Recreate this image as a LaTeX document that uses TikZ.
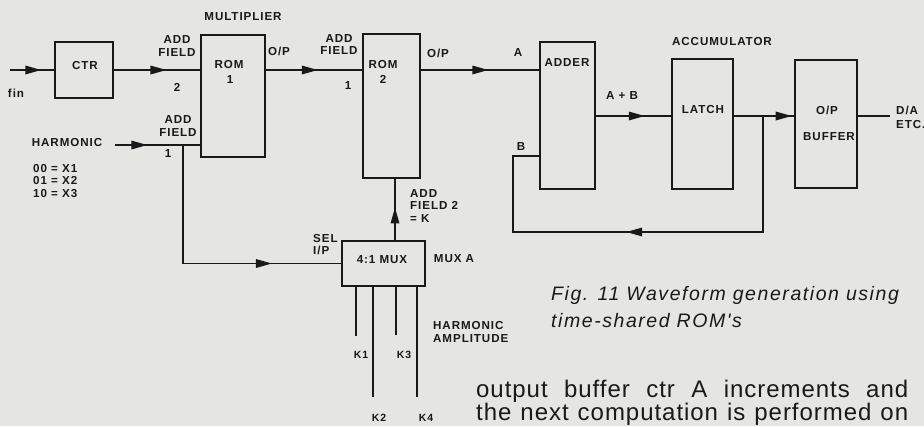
\documentclass[tikz,border=0pt]{standalone}
\usepackage{fontspec}
\newfontfamily\labf[LetterSpace=8]{Liberation Sans}
\newfontfamily\capf[LetterSpace=8]{Liberation Sans}
\newfontfamily\bodyf[LetterSpace=4]{Liberation Sans}
\usetikzlibrary{arrows.meta,decorations.markings}
\definecolor{paper}{RGB}{229,229,225}
\definecolor{ink}{RGB}{25,25,25}
\begin{document}
\begin{tikzpicture}[x=1pt,y=-1pt,
  lab/.style={font=\labf\bfseries\fontsize{11.6}{12.2}\selectfont, text=ink, inner sep=0pt, align=center},
  labl/.style={lab, align=left, anchor=west},
  klab/.style={lab, font=\labf\bfseries\fontsize{10.5}{12}\selectfont},
  blk/.style={draw=ink, line width=1.7pt, inner sep=0pt, rectangle},
  wire/.style={color=ink, line width=1.7pt},
  arr/.style={postaction={decorate}, decoration={markings, mark=at position #1 with {\arrow{Triangle[length=16pt,width=8.5pt]}}}},
  capt/.style={font=\capf\itshape\fontsize{19.5}{22}\selectfont, text=ink, inner sep=0pt, anchor=base west},
  body/.style={font=\bodyf\fontsize{24}{25}\selectfont, text=ink, inner sep=0pt, anchor=base west},
]
\fill[paper] (0,0) rectangle (924,426);
\useasboundingbox (0,0) rectangle (924,426);

% blocks
\node[blk, minimum width=58pt, minimum height=56pt] (ctr) at (84,70) {};
\node[blk, minimum width=64pt, minimum height=122pt] (rom1) at (233,96) {};
\node[blk, minimum width=57pt, minimum height=144pt] (rom2) at (391.5,106) {};
\node[blk, minimum width=55pt, minimum height=147pt] (adder) at (567.5,115.5) {};
\node[blk, minimum width=61pt, minimum height=130pt] (latch) at (702.5,124) {};
\node[blk, minimum width=62pt, minimum height=128pt] (buffer) at (826,124) {};
\node[blk, minimum width=83pt, minimum height=45pt] (mux) at (383.5,263.5) {};

% coordinates
\coordinate (fin) at (10,70);
\coordinate (sumy) at (600,116);
\coordinate (fb) at (763,116);
\coordinate (fb1) at (763,232);
\coordinate (fb2) at (513,232);
\coordinate (fb3) at (513,156);
\coordinate (out) at (890,116);
\coordinate (harm) at (115,145);
\coordinate (j) at (183,145);
\coordinate (kin) at (395,241);
\coordinate (k1) at (356,336);
\coordinate (k2) at (373,397);
\coordinate (k3) at (396,335);
\coordinate (k4) at (417,397);

% wires
\draw[wire, arr=0.71] (fin) -- (ctr.west);
\draw[wire, arr=0.61] (ctr.east) -- (ctr.east -| rom1.west);
\draw[wire, arr=0.54] (ctr.east -| rom1.east) -- (ctr.east -| rom2.west);
\draw[wire, arr=0.57] (ctr.east -| rom2.east) -- (ctr.east -| adder.west);
\draw[wire, arr=0.65] (sumy -| adder.east) -- (sumy -| latch.west);
\draw[wire, arr=0.96] (sumy -| latch.east) -- (sumy -| buffer.west);
\draw[wire] (sumy -| buffer.east) -- (out);
\draw[wire, arr=0.54] (fb) -- (fb1) -- (fb2) -- (fb3) -- (fb3 -| adder.west);
\draw[wire, arr=0.38] (harm) -- (harm -| rom1.west);
\draw[wire, arr=0.75] (j) |- (mux.west);
\draw[wire, arr=0.54] (kin) -- (kin |- rom2.south);
\draw[wire] (k1 |- mux.south) -- (k1);
\draw[wire] (k2 |- mux.south) -- (k2);
\draw[wire] (k3 |- mux.south) -- (k3);
\draw[wire] (k4 |- mux.south) -- (k4);

% labels
\node[lab] (tfin) at (16,93) {fin};
\node[lab] (tctr) at (85,66) {CTR};
\node[lab] (taf2) at (177,46) {ADD\\FIELD};
\node[lab] (t2) at (177,87) {2};
\node[lab] (tmul) at (243,17) {MULTIPLIER};
\node[lab] (trom1) at (229,65) {ROM};
\node[lab] (trom1n) at (230,80) {1};
\node[lab] (top1) at (279,51) {O/P};
\node[lab] (taf1) at (178,126) {ADD\\FIELD};
\node[lab] (t1a) at (168,154) {1};
\node[lab] (tharm) at (67,143) {HARMONIC};
\node[labl] (tcode) at (33,181) {00 = X1\\01 = X2\\10 = X3};
\node[lab] (taf3) at (339,44.5) {ADD\\FIELD};
\node[lab] (t1b) at (348,86) {1};
\node[lab] (trom2) at (383,65) {ROM};
\node[lab] (trom2n) at (383,79) {2};
\node[lab] (top2) at (438,53) {O/P};
\node[lab] (ta) at (518,53) {A};
\node[lab] (tadder) at (567,63) {ADDER};
\node[lab] (tb) at (521,147) {B};
\node[lab] (tab) at (622,96) {A + B};
\node[labl] (tk) at (410,206) {ADD\\FIELD 2\\= K};
\node[lab] (tacc) at (722,42) {ACCUMULATOR};
\node[lab] (tlatch) at (703,110) {LATCH};
\node[lab] (top3) at (827,110) {O/P};
\node[lab] (tbuf) at (829,137) {BUFFER};
\node[labl, font=\labf\bfseries\fontsize{11.6}{14}\selectfont] (tda) at (896,117) {D/A\\ETC.};
\node[labl] (tsel) at (313,244.5) {SEL\\I/P};
\node[lab] (tmux) at (382,260) {4:1 MUX};
\node[lab] (tmuxa) at (454,259) {MUX A};
\node[labl] (tamp) at (433,332) {HARMONIC\\AMPLITUDE};
\node[klab] (tk1) at (361,355) {K1};
\node[klab] (tk3) at (404,355) {K3};
\node[klab] (tk2) at (379,418) {K2};
\node[klab] (tk4) at (426,418) {K4};

% caption and body text
\node[capt] (cap1) at (551,300) {Fig. 11 Waveform generation using};
\node[capt] (cap2) at (551,327) {time-shared ROM's};
\node[body] (body1) at (476,397) {\makebox[432pt][s]{output buffer ctr A increments and}};
\node[body] (body2) at (476,420) {\makebox[432pt][s]{the next computation is performed on}};
\end{tikzpicture}
\end{document}
